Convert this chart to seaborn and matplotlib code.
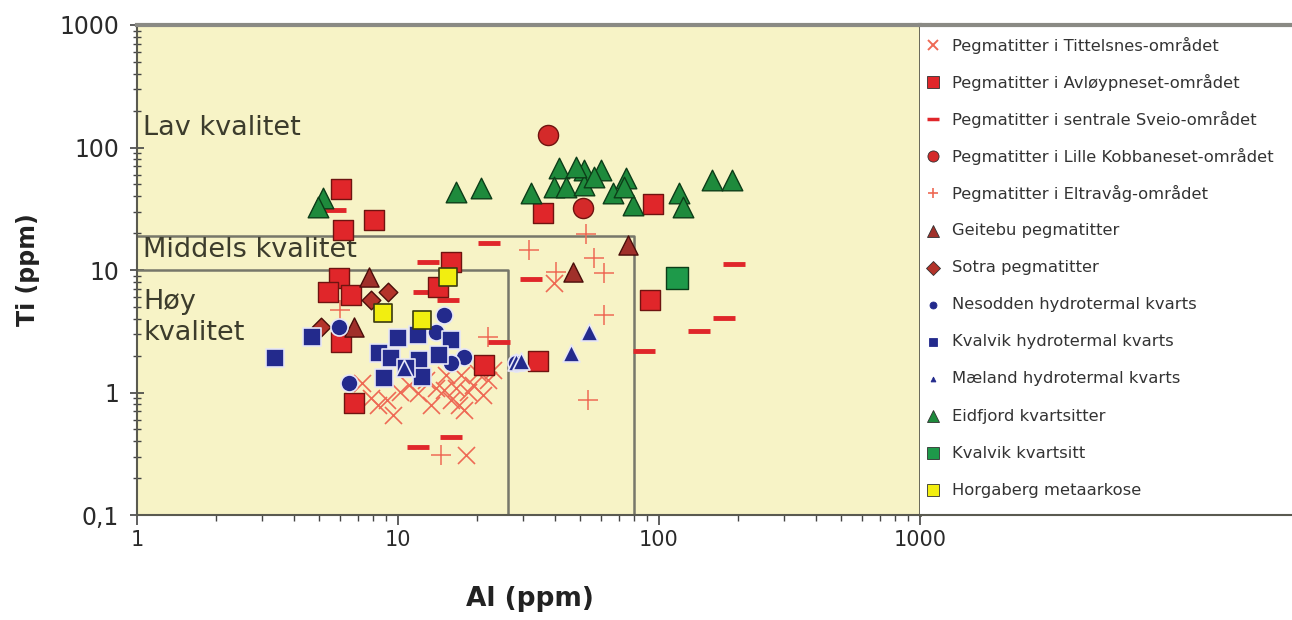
import matplotlib
matplotlib.use("Agg")
import matplotlib.pyplot as plt
import seaborn as sns
import pandas as pd
from matplotlib.ticker import FixedLocator, FixedFormatter, LogLocator, NullFormatter

# ---------------- data ----------------
tit_al = [7.3, 7.9, 8.4, 9.1, 9.6, 10.2, 11.0, 11.9, 12.8, 14.0, 15.0, 15.9, 17.1, 17.9, 18.5,
          19.4, 20.2, 21.2, 22.1, 23.1, 17.4, 15.3, 18.2, 13.4, 16.7, 39.6]
tit_ti = [1.20, 0.90, 0.79, 0.87, 0.66, 1.01, 1.15, 0.99, 1.27, 1.09, 1.05, 0.87, 0.79, 0.72, 1.01,
          1.15, 1.44, 0.95, 1.27, 1.53, 1.39, 1.39, 0.31, 0.79, 1.09, 7.8]

avl_al = [6.03, 6.13, 8.07, 5.92, 5.37, 6.58, 6.03, 6.76, 15.9, 14.2, 21.3, 34.4, 36.0, 95.1, 92.7]
avl_ti = [45.8, 21.2, 25.6, 8.6, 6.6, 6.25, 2.58, 0.82, 11.6, 7.3, 1.68, 1.81, 29.2, 34.6, 5.7]

sve_al = [5.76, 22.3, 32.3, 193, 178, 142, 87.9, 13.0, 12.6, 15.5, 24.4, 11.9, 15.9]
sve_ti = [30.9, 16.6, 8.4, 11.2, 4.05, 3.18, 2.18, 11.6, 6.6, 5.7, 2.58, 0.36, 0.43]

kob_al = [37.6, 51.3]
kob_ti = [126, 32.1]

elt_al = [52.6, 31.8, 40.3, 56.5, 61.7, 61.7, 53.5, 22.1, 14.6, 6.0]
elt_ti = [19.7, 14.6, 9.6, 12.5, 9.5, 4.3, 0.87, 2.84, 0.31, 4.7]

geit_al = [7.72, 6.76, 76.3, 46.9]
geit_ti = [8.8, 3.43, 16.0, 9.6]

sotra_al = [9.13, 7.86, 5.05]
sotra_ti = [6.6, 5.7, 3.43]

nes_al = [5.92, 6.47, 15.0, 13.96, 17.9, 15.9, 28.3]
nes_ti = [3.43, 1.20, 4.3, 3.12, 1.95, 1.74, 1.74]

kvh_al = [3.39, 4.70, 9.97, 8.43, 9.38, 12.0, 11.9, 15.9, 14.3, 8.81, 12.4, 10.7]
kvh_ti = [1.91, 2.84, 2.79, 2.10, 1.91, 1.84, 2.95, 2.69, 2.02, 1.31, 1.34, 1.58]

mae_al = [54.0, 46.1, 28.3, 10.5, 29.5]
mae_ti = [3.12, 2.10, 1.77, 1.58, 1.80]

eid_al = [5.14, 4.95, 16.7, 20.8, 32.3, 41.4, 39.7, 44.1, 51.7, 51.7, 48.2, 60.1, 56.5, 66.8,
          75.0, 79.7, 119, 124, 159, 190, 73.5]
eid_ti = [38.7, 32.7, 43.3, 46.7, 42.5, 68, 47.6, 47.6, 65.5, 49.4, 69.3, 65.5, 57.4, 42.5,
          56.4, 34.0, 42.5, 32.7, 54.3, 54.3, 47.6]

kvk_al = [117]
kvk_ti = [8.6]

horg_al = [8.74, 12.4, 15.5]
horg_ti = [4.46, 3.91, 8.8]

labels = [
    "Pegmatitter i Tittelsnes-området",
    "Pegmatitter i Avløypneset-området",
    "Pegmatitter i sentrale Sveio-området",
    "Pegmatitter i Lille Kobbaneset-området",
    "Pegmatitter i Eltravåg-området",
    "Geitebu pegmatitter",
    "Sotra pegmatitter",
    "Nesodden hydrotermal kvarts",
    "Kvalvik hydrotermal kvarts",
    "Mæland hydrotermal kvarts",
    "Eidfjord kvartsitter",
    "Kvalvik kvartsitt",
    "Horgaberg metaarkose",
]

# quality boundaries
mid_al = [1, 80, 80]
mid_ti = [19, 19, 0.1]
hoy_al = [1, 26.5, 26.5]
hoy_ti = [10, 10, 0.1]

x_ticks = [1, 10, 100, 1000]
x_ticklabels = ["1", "10", "100", "1000"]
y_ticks = [0.1, 1, 10, 100, 1000]
y_ticklabels = ["0,1", "1", "10", "100", "1000"]

# ---------------- styling ----------------
sns.set_style("white")
plt.rcParams["font.family"] = ["DejaVu Sans"]

W, H = 1292, 620
fig = plt.figure(figsize=(W / 100, H / 100), dpi=100)
ax = fig.add_axes([137 / W, 105 / H, 783 / W, 490 / H])
lax = fig.add_axes([920 / W, 105 / H, 372 / W, 490 / H])

bg = "#F7F3C6"
ax.set_facecolor(bg)
ax.set_xscale("log")
ax.set_yscale("log")
ax.set_xlim(1, 1000)
ax.set_ylim(0.1, 1000)

line_c = "#77776A"
ax.plot(mid_al, mid_ti, color=line_c, lw=1.8, zorder=1)
ax.plot(hoy_al, hoy_ti, color=line_c, lw=1.8, zorder=1)

red = "#E0262A"
red_edge = "#6E1410"
salmon = "#EE6A55"
navy = "#232A8C"
navy_edge = "#E6E6F6"
green = "#1E8A3C"
green_edge = "#0C3D18"

# key: (al, ti, marker, size, face, edge, lw)
series = {
    "tit": (tit_al, tit_ti, "x", 150, salmon, salmon, 1.2),
    "elt": (elt_al, elt_ti, "+", 190, salmon, salmon, 1.1),
    "sve": (sve_al, sve_ti, "_", 230, red, red, 3.5),
    "avl": (avl_al, avl_ti, "s", 190, red, red_edge, 1.0),
    "kob": (kob_al, kob_ti, "o", 210, "#D42A2A", red_edge, 1.0),
    "geit": (geit_al, geit_ti, "^", 190, "#A0302A", "#4A0E0A", 1.0),
    "sotra": (sotra_al, sotra_ti, "D", 90, "#B3332A", "#4A0E0A", 1.0),
    "eid": (eid_al, eid_ti, "^", 220, green, green_edge, 1.0),
    "kvk": (kvk_al, kvk_ti, "s", 250, "#1E9A4A", green_edge, 1.0),
    "nes": (nes_al, nes_ti, "o", 150, navy, navy_edge, 1.2),
    "kvh": (kvh_al, kvh_ti, "s", 150, navy, navy_edge, 1.2),
    "mae": (mae_al, mae_ti, "^", 150, navy, navy_edge, 1.2),
    "horg": (horg_al, horg_ti, "s", 180, "#F2EE10", "#3A3A10", 1.2),
}

for i, (key, (al, ti, mk, s, fc, ec, lw)) in enumerate(series.items()):
    df = pd.DataFrame({"Al": al, "Ti": ti})
    if mk in ("x", "+", "_"):
        sns.scatterplot(data=df, x="Al", y="Ti", ax=ax, marker=mk, s=s, color=fc,
                        linewidth=lw, zorder=2 + i, legend=False)
    else:
        sns.scatterplot(data=df, x="Al", y="Ti", ax=ax, marker=mk, s=s, color=fc,
                        edgecolor=ec, linewidth=lw, zorder=2 + i, legend=False)

# region labels
txt_c = "#3C3C2C"
ax.text(1.055, 144, "Lav kvalitet", fontsize=19.5, color=txt_c, va="center", ha="left", zorder=1)
ax.text(1.055, 14.6, "Middels kvalitet", fontsize=19.5, color=txt_c, va="center", ha="left", zorder=1)
ax.text(1.055, 4.1, "Høy\nkvalitet", fontsize=19.5, color=txt_c, va="center", ha="left",
        linespacing=1.25, zorder=1)

# ticks
ax.xaxis.set_major_locator(FixedLocator(x_ticks))
ax.xaxis.set_major_formatter(FixedFormatter(x_ticklabels))
ax.yaxis.set_major_locator(FixedLocator(y_ticks))
ax.yaxis.set_major_formatter(FixedFormatter(y_ticklabels))
ax.xaxis.set_minor_locator(LogLocator(base=10, subs=range(2, 10)))
ax.yaxis.set_minor_locator(LogLocator(base=10, subs=range(2, 10)))
ax.xaxis.set_minor_formatter(NullFormatter())
ax.yaxis.set_minor_formatter(NullFormatter())
tick_c = "#444444"
ax.tick_params(axis="x", which="major", direction="out", length=7, width=1.2, color=tick_c,
               labelsize=15, pad=4, labelcolor="#2A2A2A", bottom=True)
ax.tick_params(axis="x", which="minor", direction="out", length=4, width=1.0, color=tick_c, bottom=True)
ax.tick_params(axis="y", which="major", direction="inout", length=10, width=1.2, color=tick_c,
               labelsize=17, pad=8, labelcolor="#2A2A2A", left=True)
ax.tick_params(axis="y", which="minor", direction="inout", length=6, width=1.0, color=tick_c, left=True)

ax.set_xlabel("Al (ppm)", fontsize=19, fontweight="bold", color="#222222")
ax.set_ylabel("Ti (ppm)", fontsize=17, fontweight="bold", color="#222222")
ax.xaxis.set_label_coords(0.502, -0.145)
ax.yaxis.set_label_coords(-0.124, 0.5)

for side, sp in ax.spines.items():
    sp.set_visible(True)
    sp.set_color("#5A5A50")
    sp.set_linewidth(1.5)
ax.spines["top"].set_color("#8A8A84")
ax.spines["top"].set_linewidth(3)
ax.spines["right"].set_linewidth(2)

# legend panel
lax.set_xlim(0, 1)
lax.set_ylim(0, 1)
lax.set_xticks([])
lax.set_yticks([])
lax.set_facecolor("white")
lax.spines["right"].set_visible(False)
lax.spines["left"].set_visible(False)
lax.spines["top"].set_color("#8A8A84")
lax.spines["top"].set_linewidth(3)
lax.spines["bottom"].set_color("#5A5A50")
lax.spines["bottom"].set_linewidth(1.5)

legend_keys = ["tit", "avl", "sve", "kob", "elt", "geit", "sotra", "nes", "kvh", "mae",
               "eid", "kvk", "horg"]
legend_ms = [7, 8, 9, 8, 7, 8, 7, 5, 6, 3.5, 9, 9, 9]
for row, (key, ms) in enumerate(zip(legend_keys, legend_ms)):
    al, ti, mk, s, fc, ec, lw = series[key]
    ypix = 20 + 37.1 * row
    yy = 1 - ypix / 490
    if mk in ("x", "+", "_"):
        mew = {"x": 1.4, "+": 1.2, "_": 2.5}[mk]
        lax.plot([0.036], [yy], marker=mk, ms=ms, color=fc, mew=mew, ls="none")
    else:
        mec = navy if fc == navy else "#303030"
        lax.plot([0.036], [yy], marker=mk, ms=ms, mfc=fc, mec=mec, mew=0.6, ls="none")
    lax.text(0.086, yy, labels[row], fontsize=11.8, color="#333333", va="center", ha="left")

fig.savefig("out.png", dpi=100, facecolor="white")
